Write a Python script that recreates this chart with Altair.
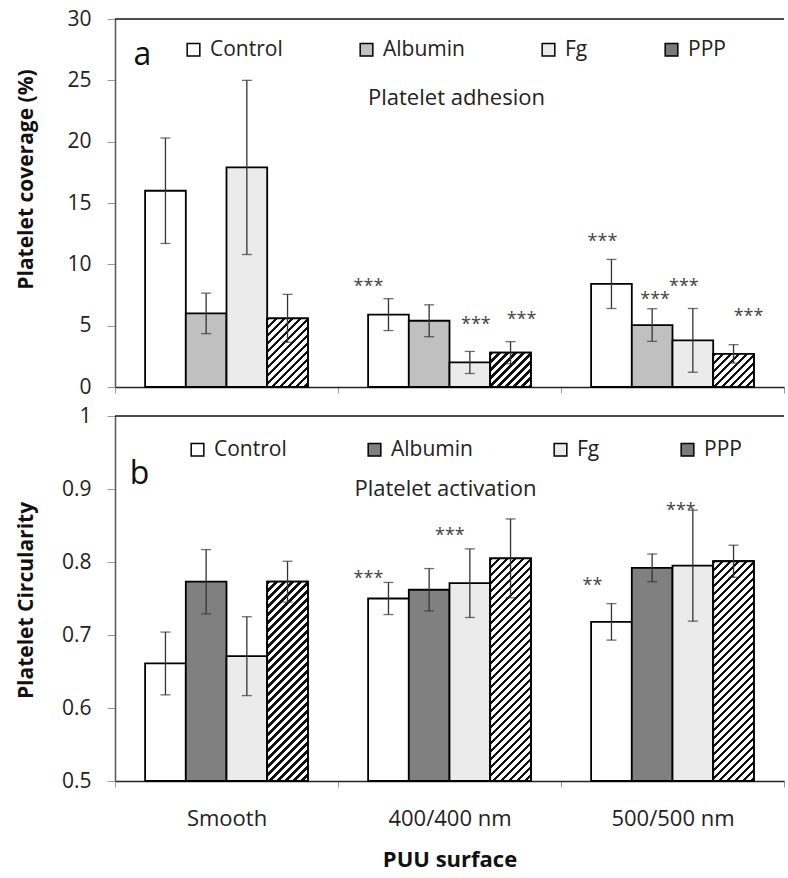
import altair as alt
import pandas as pd

categories = ["Smooth", "400/400 nm", "500/500 nm"]
series = ["Control", "Albumin", "Fg", "PPP"]

# Panel a: platelet coverage (%)
cov_control = [16.0, 5.9, 8.4]
cov_albumin = [6.0, 5.4, 5.05]
cov_fg = [17.9, 2.0, 3.8]
cov_ppp = [5.6, 2.8, 2.7]
cov_err_control = [4.3, 1.3, 2.0]
cov_err_albumin = [1.65, 1.3, 1.33]
cov_err_fg = [7.1, 0.9, 2.6]
cov_err_ppp = [1.95, 0.9, 0.75]

# Panel b: platelet circularity
circ_control = [0.661, 0.750, 0.718]
circ_albumin = [0.773, 0.762, 0.792]
circ_fg = [0.671, 0.771, 0.795]
circ_ppp = [0.773, 0.805, 0.801]
circ_err_control = [0.043, 0.022, 0.025]
circ_err_albumin = [0.044, 0.029, 0.019]
circ_err_fg = [0.054, 0.047, 0.076]
circ_err_ppp = [0.028, 0.054, 0.022]

# significance marks
stars_a_cat = ["400/400 nm", "400/400 nm", "400/400 nm", "500/500 nm", "500/500 nm", "500/500 nm", "500/500 nm"]
stars_a_series = ["Control", "Fg", "PPP", "Control", "Albumin", "Fg", "PPP"]
stars_a_val = [8.6, 5.5, 5.9, 12.2, 7.5, 8.6, 6.1]
stars_a_text = ["***"] * 7
stars_b_cat = ["400/400 nm", "400/400 nm", "500/500 nm", "500/500 nm"]
stars_b_series = ["Control", "Fg", "Control", "Fg"]
stars_b_val = [0.784, 0.842, 0.774, 0.877]
stars_b_text = ["***", "***", "**", "***"]

# styling (pixel nudges of the star labels)
stars_a_nudge = [-20, 6, 11, -9, 3, -9, 15]
stars_b_nudge = [-20, -20, -19, -12]

FONT = "Open Sans"
W = 669
PAD_OUT = 0.74
BAR_W = (W / len(categories)) / (len(series) + 2 * PAD_OUT)


def table(vals, errs):
    rows = []
    for s, v, e in zip(series, vals, errs):
        for c, vv, ee in zip(categories, v, e):
            rows.append({"category": c, "series": s, "value": vv, "lo": vv - ee, "hi": vv + ee})
    return pd.DataFrame(rows)


def hatch(value, ymin, ymax, height, period=8.0, frac=0.4):
    h = (value - ymin) / (ymax - ymin) * height
    w = BAR_W
    r = h / w
    a = (1 + r) / (1 + r * r)
    n = (w + h) / period
    stops = []
    k = 0
    while k < n:
        s = k / n
        e = min((k + frac) / n, 1.0)
        stops += [(s, "#ffffff"), (s, "#111111"), (e, "#111111"), (e, "#ffffff")]
        k += 1
    stops.append((1.0, "#ffffff"))
    return alt.Gradient(
        gradient="linear", x1=0, y1=0, x2=a, y2=a * r,
        stops=[alt.GradientStop(color=c, offset=o) for o, c in stops],
    )


def panel(df, ymin, ymax, step, height, ytitle, title_y, alb_color, legend_x, legend_y, col_pad,
          letter, letter_y, letter_dx, sub, sub_y, sub_dx, s_cat, s_ser, s_val, s_txt, s_nudge,
          bottom):
    xscale = alt.Scale(domain=categories, paddingInner=0, paddingOuter=0)
    if bottom:
        xaxis = alt.Axis(title="PUU surface", labelAngle=0, tickBand="extent", tickSize=6,
                         tickColor="#999999", domainColor="#222222", domainWidth=1.5,
                         labelFontSize=22, labelColor="#222222", labelPadding=21,
                         titleFontSize=22, titleFontWeight="bold", titleColor="#111111",
                         titlePadding=20)
    else:
        xaxis = alt.Axis(title=None, labels=False, tickBand="extent", tickSize=6,
                         tickColor="#999999", domainColor="#222222", domainWidth=1.5)
    ticks = []
    v = ymin
    while v <= ymax + 1e-9:
        ticks.append(round(v, 4))
        v += step
    yscale = alt.Scale(domain=[ymin, ymax], zero=False, nice=False)
    yaxis = alt.Axis(title=ytitle, values=ticks, format="~g", grid=False, tickSize=8,
                     tickColor="#999999", domainColor="#555555", domainWidth=1.5,
                     labelFontSize=21, labelColor="#222222", labelPadding=16,
                     titleFontSize=21, titleFontWeight="bold", titleColor="#111111",
                     titleX=-89, titleY=title_y, titleAngle=270, titleAlign="center",
                     titleBaseline="middle")
    xo = alt.XOffset("series:N", scale=alt.Scale(domain=series, paddingInner=0, paddingOuter=PAD_OUT))
    base = alt.Chart(df)
    one = alt.Chart(pd.DataFrame({"k": [0]}))
    bars = base.mark_bar(stroke="black", strokeWidth=1.8).encode(
        x=alt.X("category:N", scale=xscale, axis=xaxis, sort=categories),
        xOffset=xo,
        y=alt.Y("value:Q", scale=yscale, axis=yaxis),
        y2=alt.datum(ymin),
        color=alt.Color("series:N", scale=alt.Scale(domain=series,
                        range=["#ffffff", alb_color, "#ebebeb", "#7a7a7a"]),
                        legend=alt.Legend(title=None, orient="none", legendX=legend_x, legendY=legend_y,
                                          direction="horizontal", columns=4, columnPadding=col_pad,
                                          symbolType="square", symbolSize=160,
                                          symbolStrokeColor="black", symbolStrokeWidth=1.5,
                                          symbolOpacity=1, labelFontSize=21, labelColor="#222222",
                                          labelOffset=6)),
    )
    layers = [bars]
    ppp = df[df["series"] == "PPP"]
    for _, row in ppp.iterrows():
        layers.append(
            alt.Chart(pd.DataFrame([row])).mark_bar(
                stroke="black", strokeWidth=1.8,
                fill=hatch(row["value"], ymin, ymax, height)).encode(
                x=alt.X("category:N", sort=categories),
                xOffset="series:N",
                y="value:Q",
                y2=alt.datum(ymin),
            )
        )
    layers.append(base.mark_rule(color="#333333", strokeWidth=1.3).encode(
        x=alt.X("category:N", sort=categories), xOffset="series:N", y="lo:Q", y2="hi:Q"))
    layers.append(base.mark_tick(color="#333333", thickness=1.3, size=10).encode(
        x=alt.X("category:N", sort=categories), xOffset="series:N", y="lo:Q"))
    layers.append(base.mark_tick(color="#333333", thickness=1.3, size=10).encode(
        x=alt.X("category:N", sort=categories), xOffset="series:N", y="hi:Q"))
    for c, s, v, t, dx in zip(s_cat, s_ser, s_val, s_txt, s_nudge):
        sd = pd.DataFrame({"category": [c], "series": [s], "y": [v], "t": [t]})
        layers.append(alt.Chart(sd).mark_text(fontSize=18, color="#444444", dx=dx, dy=5,
                                              baseline="middle", align="center").encode(
            x=alt.X("category:N", sort=categories), xOffset="series:N", y="y:Q", text="t:N"))
    layers.append(one.mark_text(fontSize=32, color="#111111", dx=letter_dx, baseline="middle",
                                align="center", fontWeight="normal", text=letter).encode(
        x=alt.datum(categories[0]), y=alt.datum(letter_y)))
    layers.append(one.mark_text(fontSize=22, color="#222222", dx=sub_dx, baseline="middle",
                                align="center", fontWeight="normal", text=sub).encode(
        x=alt.datum(categories[1]), y=alt.datum(sub_y)))
    layers.append(one.mark_rule(color="#111111", strokeWidth=1.5).encode(y=alt.datum(ymax)))
    return alt.layer(*layers).properties(width=W, height=height)


pa = panel(table([cov_control, cov_albumin, cov_fg, cov_ppp],
                 [cov_err_control, cov_err_albumin, cov_err_fg, cov_err_ppp]),
           0, 30, 5, 368, "Platelet coverage (%)", 160, "#c0c0c0", 68, 20, 73,
           "a", 27.1, -84, "Platelet adhesion", 23.55, 7,
           stars_a_cat, stars_a_series, stars_a_val, stars_a_text, stars_a_nudge, False)

pb = panel(table([circ_control, circ_albumin, circ_fg, circ_ppp],
                 [circ_err_control, circ_err_albumin, circ_err_fg, circ_err_ppp]),
           0.5, 1.0, 0.1, 365, "Platelet Circularity", 184, "#808080", 72, 23, 77,
           "b", 0.92, -87, "Platelet activation", 0.9, -4,
           stars_b_cat, stars_b_series, stars_b_val, stars_b_text, stars_b_nudge, True)

chart = alt.vconcat(pa, pb, spacing=8).resolve_scale(color="independent", y="independent").properties(
    padding={"left": 15, "top": 8, "right": 0, "bottom": 6}
).configure(font=FONT).configure_view(strokeWidth=0).configure_text(font=FONT)

chart.save("out.html", embed_options={"renderer": "svg", "actions": False})
